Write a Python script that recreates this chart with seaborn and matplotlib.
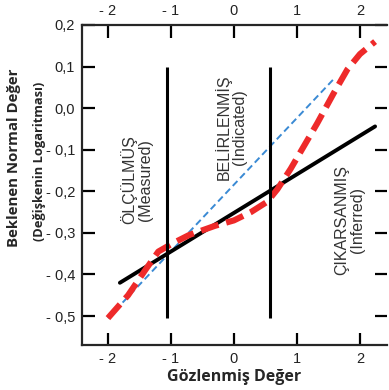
import numpy as np
import pandas as pd
import matplotlib
matplotlib.use("Agg")
import matplotlib.pyplot as plt
import seaborn as sns

# ==========================
# Data
# ==========================

# red dashed curve (observed vs expected)
red_obs = [-2.0, -1.68, -1.41, -1.2, -0.97, -0.71, -0.3, 0.0, 0.27, 0.53, 0.69, 0.9, 1.32, 1.58, 1.8, 2.0, 2.24]
red_exp = [-0.505, -0.45, -0.39, -0.345, -0.325, -0.305, -0.283, -0.27, -0.25, -0.225, -0.195, -0.146, -0.037, 0.035, 0.093, 0.13, 0.16]

# black regression line
black_obs = [-1.81, 2.24]
black_exp = [-0.42, -0.044]

# thin blue dashed line
blue_obs = [-2.0, 1.59]
blue_exp = [-0.505, 0.071]

# class boundaries
boundaries = [-1.06, 0.58]
boundary_span = [-0.505, 0.1]

xticks = [-2, -1, 0, 1, 2]
xticklabels = ["- 2", "- 1", "0", "1", "2"]
yticks = [-0.5, -0.4, -0.3, -0.2, -0.1, 0.0, 0.1, 0.2]
yticklabels = ["- 0,5", "- 0,4", "- 0,3", "- 0,2", "- 0,1", "0,0", "0,1", "0,2"]

zones = ["ÖLÇÜLMÜŞ\n(Measured)", "BELİRLENMİŞ\n(Indicated)", "ÇIKARSANMIŞ\n(Inferred)"]
zone_x = [-1.54, -0.05, 1.83]
zone_y = [-0.172, -0.045, -0.27]

# ==========================
# Plot
# ==========================

sns.set_style("ticks")
plt.rcParams["font.family"] = ["Liberation Sans", "DejaVu Sans"]

fig = plt.figure(figsize=(3.89, 3.90), dpi=100)
ax = fig.add_axes([0.211, 0.115, 0.784, 0.821])

df_red = pd.DataFrame({"obs": red_obs, "exp": red_exp})
df_black = pd.DataFrame({"obs": black_obs, "exp": black_exp})
df_blue = pd.DataFrame({"obs": blue_obs, "exp": blue_exp})

sns.lineplot(data=df_blue, x="obs", y="exp", ax=ax, color="#3a8ad4",
             linewidth=1.4, linestyle=(0, (3.5, 2)), sort=False)
sns.lineplot(data=df_black, x="obs", y="exp", ax=ax, color="black",
             linewidth=2.8, sort=False)
sns.lineplot(data=df_red, x="obs", y="exp", ax=ax, color="#ee2a2a",
             linewidth=4.4, linestyle=(0, (3.0, 1.3)), sort=False)

for bx in boundaries:
    ax.vlines(bx, boundary_span[0], boundary_span[1], color="black", linewidth=2.2)

for label, zx, zy in zip(zones, zone_x, zone_y):
    ax.text(zx, zy, label, rotation=90, ha="center", va="center",
            fontsize=11.5, color="#333333", linespacing=1.05)

ax.set_xlim(-2.41, 2.43)
ax.set_ylim(-0.57, 0.2)
ax.set_xticks(xticks)
ax.set_xticklabels(xticklabels)
ax.set_yticks(yticks)
ax.set_yticklabels(yticklabels)

ax.tick_params(axis="both", direction="in", length=9, width=1.6,
               labelsize=10.5, colors="black", labelcolor="#222222", pad=5)
ax.tick_params(axis="x", top=True, labeltop=True)
ax.tick_params(axis="y", right=True)

for side in ["left", "bottom", "top"]:
    ax.spines[side].set_linewidth(1.6)
    ax.spines[side].set_visible(True)
ax.spines["right"].set_visible(False)

ax.set_xlabel("Gözlenmiş Değer", fontsize=11.5, fontweight="bold",
              family=["Open Sans", "DejaVu Sans"], labelpad=2)
ax.set_ylabel("")
ax.text(-0.222, 0.585, "Beklenen Normal Değer", transform=ax.transAxes,
        rotation=90, ha="center", va="center", fontsize=10.8, fontweight="bold",
        family=["Open Sans", "DejaVu Sans"])
ax.text(-0.138, 0.575, "(Değişkenin Logaritması)", transform=ax.transAxes,
        rotation=90, ha="center", va="center", fontsize=9.3, fontweight="bold",
        family=["Open Sans", "DejaVu Sans"])

fig.savefig("out.png", dpi=100)
plt.close(fig)
